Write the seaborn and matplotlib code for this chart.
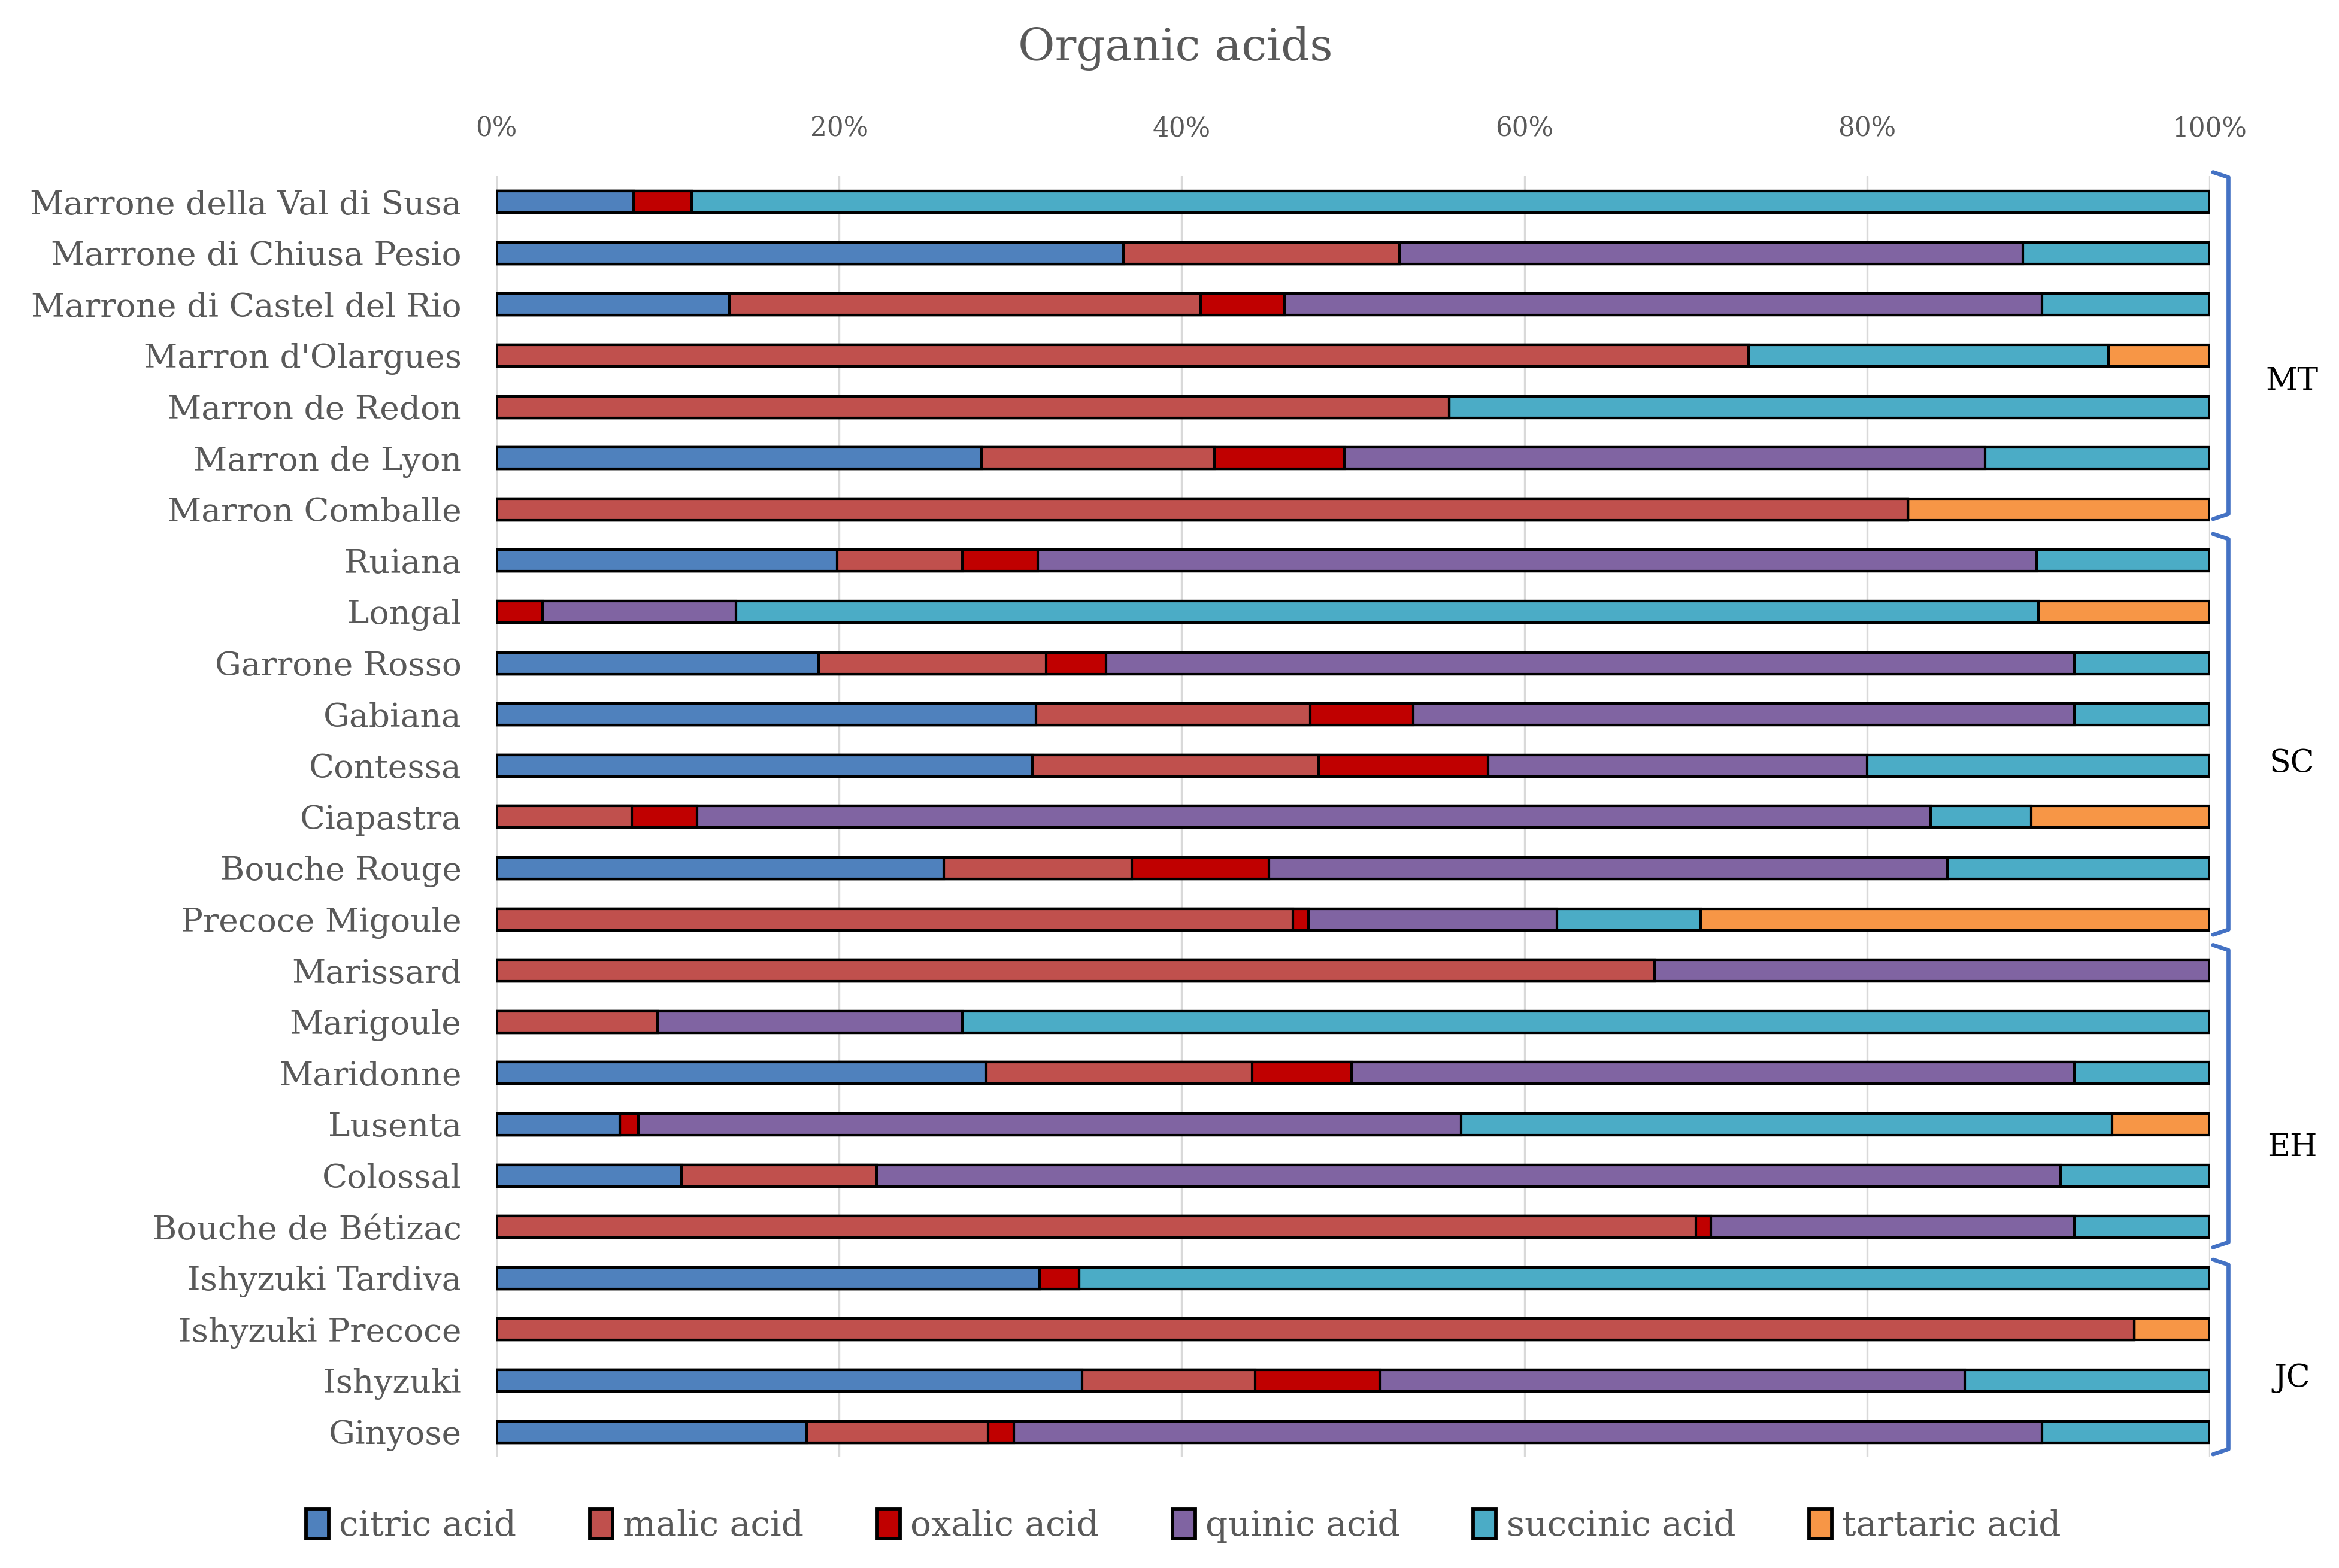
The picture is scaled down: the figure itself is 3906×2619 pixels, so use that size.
import numpy as np
import pandas as pd
import matplotlib
matplotlib.use("Agg")
import matplotlib.pyplot as plt
import matplotlib.ticker as mticker
from matplotlib.patches import Patch
import seaborn as sns

varieties = ["Marrone della Val di Susa", "Marrone di Chiusa Pesio", "Marrone di Castel del Rio",
             "Marron d'Olargues", "Marron de Redon", "Marron de Lyon", "Marron Comballe",
             "Ruiana", "Longal", "Garrone Rosso", "Gabiana", "Contessa", "Ciapastra",
             "Bouche Rouge", "Precoce Migoule", "Marissard", "Marigoule", "Maridonne",
             "Lusenta", "Colossal", "Bouche de Bétizac", "Ishyzuki Tardiva",
             "Ishyzuki Precoce", "Ishyzuki", "Ginyose"]

acids = ["citric acid", "malic acid", "oxalic acid", "quinic acid", "succinic acid", "tartaric acid"]

citric = [8.0, 36.6, 13.6, 0, 0, 28.3, 0, 19.9, 0, 18.8, 31.5, 31.3, 0, 26.1, 0, 0, 0, 28.6, 7.2, 10.8, 0, 31.7, 0, 34.2, 18.1]
malic = [0, 16.1, 27.5, 73.1, 55.6, 13.6, 82.4, 7.3, 0, 13.3, 16.0, 16.7, 7.9, 11.0, 46.5, 67.6, 9.4, 15.5, 0, 11.4, 70.0, 0, 95.6, 10.1, 10.6]
oxalic = [3.4, 0, 4.9, 0, 0, 7.6, 0, 4.4, 2.7, 3.5, 6.0, 9.9, 3.8, 8.0, 0.9, 0, 0, 5.8, 1.1, 0, 0.9, 2.3, 0, 7.3, 1.5]
quinic = [0, 36.4, 44.2, 0, 0, 37.4, 0, 58.3, 11.3, 56.5, 38.6, 22.1, 72.0, 39.6, 14.5, 32.4, 17.8, 42.2, 48.0, 69.1, 21.2, 0, 0, 34.1, 60.0]
succinic = [88.6, 10.9, 9.8, 21.0, 44.4, 13.1, 0, 10.1, 76.0, 7.9, 7.9, 20.0, 5.9, 15.3, 8.4, 0, 72.8, 7.9, 38.0, 8.7, 7.9, 66.0, 0, 14.3, 9.8]
tartaric = [0, 0, 0, 5.9, 0, 0, 17.6, 0, 10.0, 0, 0, 0, 10.4, 0, 29.7, 0, 0, 0, 5.7, 0, 0, 0, 4.4, 0, 0]

group_names = ["MT", "SC", "EH", "JC"]

colors = ["#4F81BD", "#C0504D", "#C00000", "#8064A2", "#4BACC6", "#F79646"]

df = pd.DataFrame({"variety": varieties, "citric acid": citric, "malic acid": malic,
                   "oxalic acid": oxalic, "quinic acid": quinic,
                   "succinic acid": succinic, "tartaric acid": tartaric})
vals = df[acids].to_numpy(dtype=float)
vals = vals / vals.sum(axis=1, keepdims=True)
cum = np.cumsum(vals, axis=1)

sns.set_theme(style="white")
serif = ["DejaVu Serif"]
plt.rcParams["font.family"] = serif
gray = "#595959"

fig = plt.figure(figsize=(3906 / 300, 2619 / 300), dpi=300)
ax = fig.add_axes([0.2122, 0.0705, 0.7325, 0.8171])

for i in reversed(range(len(acids))):
    sns.barplot(x=cum[:, i], y=varieties, order=varieties, color=colors[i],
                edgecolor="black", linewidth=1.0, width=0.42, orient="h",
                saturation=1, ax=ax)

ax.set_xlim(0, 1)
ax.set_ylim(24.5, -0.5)
ax.xaxis.tick_top()
ax.xaxis.set_major_locator(mticker.MultipleLocator(0.2))
ax.xaxis.set_major_formatter(mticker.PercentFormatter(1.0, decimals=0))
ax.grid(axis="x", color="#D9D9D9", linewidth=0.8)
ax.grid(axis="y", visible=False)
ax.set_axisbelow(True)
for s in ax.spines.values():
    s.set_visible(False)
ax.tick_params(axis="x", length=0, pad=14, labelsize=10.5, labelcolor=gray)
ax.tick_params(axis="y", length=0, pad=14, labelsize=13.2, labelcolor=gray)
ax.set_xlabel("")
ax.set_ylabel("")

# group brackets
trans = matplotlib.transforms.blended_transform_factory(ax.transAxes, ax.transData)
bracket_tops = [-0.58, 6.48, 14.5, 20.64]
bracket_bots = [6.19, 14.3, 20.4, 24.44]
label_rows = [3.5, 10.95, 18.45, 22.95]
for name, t, b, yl in zip(group_names, bracket_tops, bracket_bots, label_rows):
    ax.plot([1.002, 1.011, 1.011, 1.002], [t, t + 0.1, b - 0.1, b], transform=trans,
            color="#4472C4", linewidth=1.6, clip_on=False, solid_capstyle="round")
    ax.text(1.048, yl, name, transform=trans, ha="center", va="center",
            fontsize=12.5, color="black")

fig.text(0.5025, 0.969, "Organic acids", ha="center", va="center", fontsize=18, color=gray)

handles = [Patch(facecolor=c, edgecolor="black", linewidth=1.4) for c in colors]
fig.legend(handles, acids, loc="center", bbox_to_anchor=(0.506, 0.027), ncol=6,
           frameon=False, fontsize=14, handlelength=0.65, handleheight=0.95,
           handletextpad=0.3, columnspacing=2.1, labelcolor=gray)

fig.savefig("out.png", dpi=300)
